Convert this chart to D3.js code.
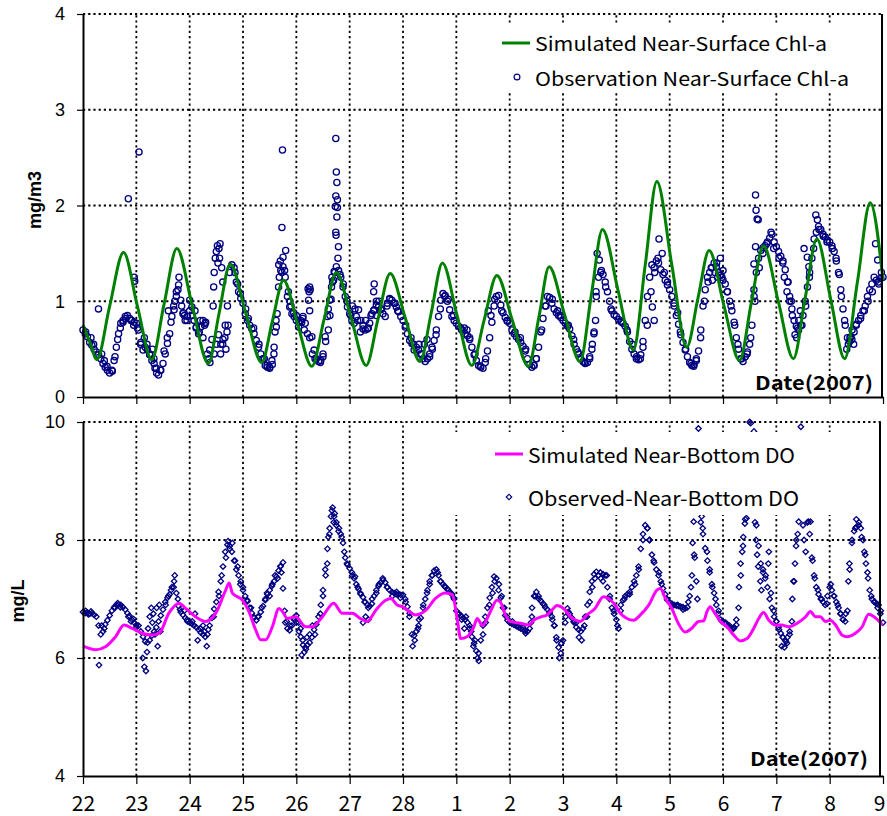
<!DOCTYPE html>
<html><head><meta charset="utf-8">
<script src="https://cdn.jsdelivr.net/npm/d3@7"></script>
<style>body{margin:0;background:#fff}</style></head><body>
<svg id="c" width="887" height="816"></svg>
<script>
// ---------- DATA ----------
const xLabels = ["22","23","24","25","26","27","28","1","2","3","4","5","6","7","8","9"];
const chlTicks = [0,1,2,3,4];
const doTicks = [4,6,8,10];

// Simulated near-surface Chl-a: [day, mg/m3]
const simChl = [
[0,0.75],[0.13,0.57],[0.26,0.39],[0.50,0.95],[0.76,1.51],[1.02,0.95],[1.29,0.39],[1.52,0.97],[1.76,1.55],
[2.05,0.95],[2.35,0.35],[2.55,0.87],[2.76,1.39],[3.05,0.88],[3.35,0.36],[3.55,0.79],[3.76,1.22],
[4.02,0.77],[4.29,0.32],[4.52,0.81],[4.75,1.30],[5.03,0.82],[5.31,0.33],[5.53,0.81],[5.76,1.29],
[6.04,0.83],[6.32,0.37],[6.53,0.88],[6.74,1.40],[7.01,0.86],[7.29,0.33],[7.52,0.80],[7.76,1.27],
[8.05,0.80],[8.35,0.32],[8.55,0.84],[8.74,1.36],[9.03,0.86],[9.32,0.37],[9.53,1.06],[9.74,1.75],
[10.03,1.12],[10.32,0.49],[10.54,1.37],[10.76,2.25],[11.04,1.38],[11.32,0.52],[11.53,1.03],[11.74,1.53],
[12.02,0.95],[12.31,0.38],[12.53,0.98],[12.76,1.58],[13.04,0.99],[13.32,0.40],[13.54,1.03],[13.76,1.65],
[14.02,1.02],[14.28,0.40],[14.52,1.20],[14.76,2.03],[15.0,1.22]
];

// Observed near-surface Chl-a, hourly values per day (22 Feb ... 8 Mar)
const obsChlHourly = [
[0.70,0.66,0.63,0.57,0.54,0.50,0.47,0.44,0.40,0.35,0.31,0.28,0.25,0.28,0.38,0.52,0.66,0.77,0.80,0.84,0.85,0.82,0.80,0.78],
[0.77,0.70,0.57,0.49,0.52,0.49,0.45,0.38,0.35,0.30,0.23,0.28,0.35,0.45,0.56,0.66,0.84,0.91,1.05,1.17,1.01,0.87,0.80,0.84],
[1.01,0.94,0.80,0.73,0.66,0.73,0.80,0.77,0.45,0.49,0.60,0.45,0.55,0.65,0.55,0.60,0.75,0.95,1.30,1.38,1.35,1.20,1.10,1.03],
[0.98,0.87,0.80,0.75,0.71,0.66,0.59,0.52,0.45,0.40,0.33,0.31,0.31,0.38,0.52,0.73,1.15,1.32,1.36,1.25,1.05,0.94,0.87,0.84],
[0.80,0.73,0.80,0.84,0.77,0.66,0.62,0.63,0.49,0.40,0.37,0.38,0.42,0.63,0.84,1.01,1.25,1.31,1.36,1.32,1.25,1.15,1.05,0.94],
[0.87,0.80,0.77,0.84,0.91,0.80,0.71,0.70,0.71,0.77,0.87,0.91,0.96,0.94,0.91,0.87,0.84,0.98,1.03,1.01,0.98,0.94,0.89,0.84],
[0.80,0.73,0.66,0.59,0.56,0.49,0.52,0.49,0.45,0.40,0.37,0.40,0.45,0.52,0.59,0.70,0.84,1.01,1.08,1.06,1.00,0.91,0.84,0.80],
[0.77,0.74,0.72,0.69,0.66,0.64,0.60,0.52,0.44,0.38,0.33,0.31,0.30,0.36,0.48,0.62,0.78,0.95,1.05,1.06,0.96,0.88,0.83,0.79],
[0.77,0.70,0.66,0.63,0.60,0.57,0.53,0.48,0.40,0.34,0.31,0.33,0.40,0.52,0.68,0.82,0.95,1.05,1.04,0.98,0.92,0.88,0.85,0.83],
[0.80,0.77,0.74,0.71,0.64,0.55,0.50,0.45,0.40,0.37,0.35,0.36,0.42,0.50,0.68,1.05,1.25,1.30,1.28,1.20,1.10,1.00,0.90,0.86],
[0.84,0.81,0.79,0.77,0.74,0.68,0.58,0.50,0.45,0.40,0.39,0.44,0.58,0.80,1.05,1.25,1.38,1.35,1.42,1.40,1.33,1.28,1.22,1.17],
[1.12,1.05,0.95,0.85,0.76,0.65,0.57,0.49,0.42,0.36,0.33,0.34,0.38,0.48,0.70,0.95,1.12,1.25,1.30,1.35,1.40,1.36,1.30,1.27],
[1.22,1.18,1.10,1.00,0.90,0.78,0.62,0.50,0.40,0.37,0.42,0.47,0.55,0.75,1.05,1.30,1.45,1.53,1.56,1.58,1.62,1.66,1.70,1.62],
[1.57,1.52,1.47,1.42,1.33,1.20,1.05,0.92,0.80,0.74,0.70,0.75,0.85,1.00,1.15,1.30,1.45,1.65,1.72,1.78,1.75,1.70,1.67,1.64],
[1.62,1.58,1.52,1.42,1.30,1.12,0.92,0.75,0.62,0.58,0.60,0.68,0.75,0.80,0.85,0.90,0.95,1.05,1.12,1.18,1.25,1.22,1.20,1.24]
];
const obsChlEnd = [15, 1.25];
// scattered / outlying Chl-a observations: [day, mg/m3]
const obsChlExtra = [
[0.29,0.92],[0.85,2.07],[1.05,2.56],[0.96,1.25],[0.97,1.21],
[1.15,0.62],[1.2,0.55],[1.25,0.44],[1.3,0.50],[1.33,0.40],
[1.6,0.90],[1.7,0.95],[1.75,1.10],[1.8,1.25],[1.85,0.95],[1.9,0.85],
[2.0,0.90],[2.1,0.90],[2.2,0.80],[2.25,0.62],[2.3,0.78],[2.36,0.40],[2.38,0.36],
[2.46,1.30],[2.48,1.45],[2.50,1.52],[2.52,1.58],[2.55,1.55],[2.57,1.60],[2.53,1.40],[2.56,1.45],[2.60,1.35],[2.45,1.15],[2.44,0.95],[2.62,1.20],
[2.58,0.45],[2.62,0.55],[2.66,0.62],[2.70,0.68],[2.72,0.75],[2.68,0.50],
[3.74,2.58],[3.73,1.77],[3.80,1.53],[3.75,1.46],[3.70,1.42],[3.67,1.38],[3.73,1.30],[3.62,0.80],[3.60,0.68],[3.64,0.87],[3.85,1.10],[3.90,0.95],
[4.22,1.13],[4.24,1.10],[4.25,1.15],[4.26,1.12],[4.23,1.01],[4.25,0.90],[4.10,0.78],[4.15,0.70],[4.0,0.85],
[4.74,2.70],[4.75,2.35],[4.76,2.24],[4.74,2.10],[4.77,2.06],[4.73,1.99],[4.77,1.98],[4.76,1.88],[4.74,1.72],[4.745,1.69],[4.79,1.57],[4.78,1.45],[4.70,1.22],[4.68,1.20],[4.65,1.02],[4.60,0.70],[4.63,0.85],
[5.25,0.75],[5.30,0.80],[5.45,0.90],[5.50,0.85],[5.05,0.95],[5.10,0.92],[5.46,1.18],[5.45,1.10],[5.50,1.00],[5.55,1.00],[5.60,0.92],
[6.30,0.55],[6.35,0.45],[6.40,0.55],[6.45,0.60],[7.15,0.72],[7.20,0.70],[7.60,0.90],
[9.64,1.50],[9.68,1.43],[9.61,0.80],[9.58,0.66],
[10.80,1.65],[10.86,1.50],[10.675,0.94],[10.71,0.80],
[11.80,1.22],[11.85,1.30],[11.95,1.45],[12.00,1.32],[11.90,1.25],
[12.61,2.11],[12.62,1.95],[12.64,1.86],[12.66,1.85],[12.61,1.57],[12.58,1.39],[12.58,1.12],
[13.15,1.25],[13.20,1.10],[13.25,1.00],[13.30,0.85],[13.35,0.65],[13.38,0.62],[13.42,0.80],[13.45,0.90],
[13.52,1.55],[13.58,1.46],[13.61,1.36],[13.74,1.90],[13.77,1.85],
[14.32,0.50],[14.35,0.55],[14.40,0.63],[14.45,0.55],[14.28,0.80],[14.86,1.60],[14.90,1.43]
];
// spread of the dense Chl-a observation band: [day, mg/m3]
const obsChlBand = [
[0.05,0.68],[0.15,0.62],[0.2,0.55],[0.35,0.45],[0.4,0.38],[0.45,0.32],[0.55,0.27],[0.6,0.42],[0.65,0.60],[0.7,0.72],[0.75,0.78],[0.8,0.82],[0.9,0.80],[0.95,0.75],
[1.02,0.72],[1.08,0.55],[1.35,0.30],[1.38,0.25],[1.45,0.28],[1.52,0.48],[1.58,0.62],[1.65,0.78],[1.72,1.00],[1.78,1.12],[1.88,0.88],[1.95,0.80],
[2.05,0.85],[2.12,0.72],[2.18,0.68],[2.28,0.75],[2.85,1.30],[2.9,1.18],[2.95,1.08],
[3.05,0.92],[3.1,0.82],[3.2,0.72],[3.3,0.55],[3.4,0.40],[3.45,0.33],[3.5,0.30],[3.55,0.34],[3.58,0.45],[3.68,1.25],[3.78,1.32],[3.88,1.00],[3.95,0.88],
[4.05,0.78],[4.12,0.82],[4.3,0.45],[4.35,0.40],[4.45,0.36],[4.5,0.45],[4.55,0.58],[4.6,0.92],[4.66,1.15],[4.72,1.30],[4.82,1.28],[4.88,1.18],[4.95,1.00],
[5.02,0.85],[5.15,0.80],[5.2,0.68],[5.35,0.72],[5.4,0.85],[5.7,0.95],[5.75,1.02],[5.85,0.98],[5.9,0.90],
[6.05,0.75],[6.15,0.62],[6.2,0.55],[6.5,0.42],[6.55,0.50],[6.62,0.65],[6.7,0.92],[6.78,1.05],[6.85,1.02],[6.95,0.85],
[7.1,0.70],[7.25,0.62],[7.35,0.45],[7.45,0.32],[7.55,0.40],[7.65,0.85],[7.72,1.02],[7.85,0.90],[7.95,0.80],
[8.1,0.68],[8.2,0.62],[8.3,0.50],[8.45,0.33],[8.5,0.40],[8.6,0.70],[8.68,0.95],[8.8,1.02],[8.9,0.90],[8.95,0.85],
[9.1,0.75],[9.2,0.60],[9.28,0.47],[9.4,0.36],[9.5,0.40],[9.55,0.55],[9.62,1.10],[9.72,1.32],[9.8,1.15],[9.9,0.92],
[10.1,0.78],[10.2,0.70],[10.3,0.55],[10.38,0.42],[10.45,0.40],[10.5,0.52],[10.58,0.75],[10.65,1.10],[10.72,1.30],[10.78,1.45],[10.9,1.30],[10.96,1.20],
[11.08,0.98],[11.15,0.88],[11.2,0.68],[11.3,0.50],[11.4,0.35],[11.45,0.32],[11.5,0.40],[11.58,0.62],[11.65,1.00],[11.72,1.20],[11.78,1.35],[11.88,1.40],[11.98,1.25],
[12.08,1.10],[12.15,0.95],[12.22,0.75],[12.28,0.55],[12.35,0.40],[12.45,0.45],[12.52,0.62],[12.6,1.00],[12.68,1.35],[12.75,1.50],[12.82,1.60],[12.9,1.72],[12.95,1.55],
[13.05,1.45],[13.12,1.40],[13.22,1.20],[13.28,1.00],[13.4,0.72],[13.48,0.75],[13.55,0.95],[13.62,1.25],[13.7,1.55],[13.8,1.75],[13.88,1.68],[13.95,1.62],
[14.05,1.55],[14.12,1.45],[14.18,1.28],[14.22,1.05],[14.38,0.62],[14.42,0.70],[14.5,0.76],[14.58,0.82],[14.65,0.90],[14.72,1.00],[14.8,1.10],[14.92,1.18],[14.97,1.30]
];

// Simulated near-bottom DO: [day, mg/L]
const simDO = [
[0,6.20],[0.24,6.14],[0.42,6.19],[0.61,6.36],[0.77,6.56],[0.925,6.50],[1.11,6.42],[1.30,6.39],[1.43,6.42],[1.61,6.76],
[1.80,6.93],[1.925,6.84],[2.11,6.70],[2.30,6.62],[2.49,6.76],[2.675,7.15],[2.74,7.27],[2.80,7.10],[2.99,6.98],[3.11,6.79],
[3.24,6.47],[3.33,6.31],[3.425,6.31],[3.55,6.53],[3.675,6.84],[3.74,6.79],[3.83,6.67],[3.99,6.70],[4.175,6.53],[4.30,6.53],
[4.49,6.70],[4.70,6.93],[4.86,6.76],[5.05,6.76],[5.20,6.67],[5.33,6.62],[5.49,6.81],[5.675,6.98],[5.77,7.01],[5.89,6.90],
[5.99,6.87],[6.11,6.79],[6.24,6.73],[6.43,6.81],[6.61,7.01],[6.80,7.10],[6.925,7.07],[7.02,6.64],[7.08,6.33],[7.20,6.36],
[7.33,6.53],[7.39,6.67],[7.49,6.55],[7.64,6.79],[7.76,6.98],[7.825,6.95],[7.92,6.73],[8.01,6.62],[8.20,6.59],[8.36,6.56],
[8.45,6.64],[8.60,6.70],[8.70,6.73],[8.79,6.81],[8.89,6.89],[9.01,6.84],[9.14,6.70],[9.325,6.62],[9.45,6.73],[9.60,6.84],
[9.76,7.04],[9.85,7.01],[9.95,6.93],[10.075,6.76],[10.20,6.67],[10.325,6.64],[10.45,6.73],[10.61,6.90],[10.76,7.15],[10.825,7.18],
[10.92,7.01],[11.04,6.84],[11.16,6.59],[11.29,6.44],[11.41,6.50],[11.54,6.62],[11.64,6.63],[11.70,6.79],[11.76,6.87],[11.825,6.79],
[11.95,6.62],[12.075,6.53],[12.20,6.39],[12.325,6.29],[12.45,6.33],[12.575,6.50],[12.67,6.67],[12.76,6.77],[12.86,6.64],[12.98,6.56],
[13.10,6.56],[13.23,6.53],[13.39,6.59],[13.55,6.70],[13.64,6.79],[13.73,6.70],[13.825,6.70],[13.92,6.62],[14.01,6.64],[14.11,6.56],
[14.23,6.39],[14.325,6.36],[14.48,6.42],[14.61,6.53],[14.73,6.74],[14.83,6.70],[14.99,6.56]
];

// Observed near-bottom DO, hourly values per day (null = no reading)
const obsDOHourly = [
[6.78,6.76,6.77,6.75,6.76,6.73,6.70,6.55,6.40,6.45,6.57,6.64,6.72,6.80,6.86,6.90,6.91,6.90,6.86,6.82,6.76,6.71,6.65,6.60],
[6.56,6.55,6.45,6.36,6.28,6.26,6.30,6.38,6.45,6.52,6.62,6.72,6.82,6.95,7.02,7.08,7.20,7.30,7.10,6.88,6.78,6.73,6.68,6.62],
[6.60,6.58,6.55,6.52,6.48,6.43,6.40,6.36,6.40,6.55,6.68,6.83,6.95,7.12,7.30,7.55,7.80,7.92,7.90,7.80,7.65,7.50,7.40,7.30],
[7.20,7.05,6.96,6.85,6.76,6.68,6.64,6.70,6.78,6.88,6.98,7.08,7.15,7.22,7.30,7.38,7.48,7.56,7.62,6.60,6.50,6.47,6.55,6.65],
[6.72,6.60,6.36,6.22,6.18,6.22,6.26,6.35,6.48,6.57,6.70,6.90,7.15,7.50,7.85,8.20,8.50,8.40,8.25,8.15,8.10,7.95,7.70,7.58],
[7.52,7.45,7.35,7.25,7.17,7.08,7.03,6.95,6.90,6.88,6.92,7.05,7.15,7.22,7.28,7.32,7.28,7.20,7.15,7.12,7.10,7.08,7.08,7.07],
[7.07,7.00,6.87,6.76,6.40,6.38,6.45,6.55,6.68,6.85,7.00,7.15,7.30,7.40,7.48,7.50,7.40,7.30,7.25,7.20,7.17,7.12,7.08,7.00],
[6.80,6.74,6.72,6.68,6.65,6.60,6.50,6.36,6.25,6.12,6.08,6.30,6.55,6.70,6.85,7.02,7.20,7.38,7.35,7.15,7.02,6.85,6.72,6.64],
[6.60,6.58,6.56,6.54,6.52,6.50,6.48,6.46,6.45,6.50,6.70,7.05,7.12,7.05,6.97,6.92,6.86,6.82,6.76,6.70,6.55,6.35,6.18,6.08],
[6.30,6.60,6.84,6.75,6.68,6.60,6.52,6.48,6.45,6.50,6.70,6.90,7.12,7.30,7.42,7.46,7.40,7.35,7.42,7.40,7.20,7.00,6.85,6.75],
[6.65,6.50,6.90,6.98,7.05,7.08,7.12,7.20,7.30,7.40,7.55,7.85,8.10,8.25,8.20,8.00,7.75,7.62,7.50,7.40,7.30,7.18,7.08,6.98],
[6.94,6.92,6.90,6.89,6.88,6.87,6.86,6.84,6.86,7.05,7.40,7.75,null,null,8.30,8.10,7.86,7.65,7.45,7.25,7.10,6.90,6.75,6.65],
[6.62,6.58,6.55,6.52,6.50,6.52,6.56,6.85,7.40,7.90,8.35,null,null,null,null,8.25,7.90,7.60,7.45,7.35,7.20,7.00,6.85,6.70],
[6.62,6.52,6.42,6.35,6.30,6.35,6.45,6.62,7.30,8.00,null,null,null,null,8.30,8.10,7.70,7.40,7.20,7.08,7.00,6.95,6.90,7.05],
[7.20,7.15,7.05,6.95,6.85,6.75,6.65,6.62,6.80,7.50,7.95,8.15,8.22,8.25,8.20,8.00,7.75,7.45,7.15,7.00,6.95,6.92,6.90,6.80]
];
const obsDOEnd = [15, 6.60];
// scattered / outlying DO observations: [day, mg/L]
const obsDOExtra = [
[0.30,5.88],
[1.12,6.00],[1.15,5.85],[1.18,5.78],[1.20,6.10],[1.22,6.50],[1.25,6.70],[1.28,6.85],[1.30,6.60],[1.32,6.75],[1.35,6.40],[1.40,6.20],[1.38,6.85],[1.43,6.90],[1.45,6.45],
[2.10,6.75],[2.15,6.30],[2.25,6.55],[2.32,6.20],[2.35,6.48],
[3.75,7.18],[3.78,6.80],
[4.10,6.05],[4.15,6.10],[4.20,6.35],[4.05,6.45],
[4.60,8.05],[4.65,8.40],[4.70,8.30],[4.75,8.30],[4.68,8.55],
[5.25,6.60],[5.30,6.70],[5.35,6.65],
[6.18,6.20],[6.22,6.30],[6.28,6.50],
[7.15,6.50],[7.25,6.55],[7.32,6.20],[7.40,6.00],[7.42,5.95],
[8.88,6.30],[8.93,6.00],[8.97,6.25],
[9.30,6.35],[9.35,6.30],[9.25,6.60],
[11.45,8.31],[11.43,7.95],[11.47,7.70],[11.54,9.89],[11.60,8.40],[11.62,8.20],[11.50,7.30],[11.52,7.00],
[12.30,7.20],[12.33,7.60],[12.36,7.80],[12.38,8.05],[12.41,8.28],[12.44,8.37],[12.50,10.0],[12.52,9.98],[12.58,9.84],[12.60,8.30],[12.62,8.00],[12.64,7.75],[12.66,7.55],[12.70,7.30],[12.72,7.15],[12.86,7.80],[12.85,7.60],
[13.30,7.00],[13.32,7.30],[13.35,7.60],[13.37,7.90],[13.40,8.10],[13.42,8.31],[13.46,9.92],[13.50,8.25],[13.52,8.00],[13.55,7.80],[13.60,8.31],[13.64,8.31],[13.10,6.20],[13.15,6.18],[13.20,6.25],[13.25,6.40],
[14.35,7.30],[14.37,7.60],[14.50,8.35],[14.55,8.30]
];
// spread of the dense DO observation band: [day, mg/L]
const obsDOBand = [
[0.05,6.80],[0.1,6.74],[0.15,6.79],[0.35,6.55],[0.4,6.50],[0.6,6.85],[0.65,6.93],[0.7,6.86],[0.85,6.70],[0.9,6.62],[0.95,6.66],[1.0,6.52],
[1.55,6.90],[1.6,7.05],[1.65,7.15],[1.7,7.20],[1.72,7.40],[1.78,7.00],[1.82,6.82],[1.9,6.80],[1.95,6.65],[2.05,6.62],[2.2,6.50],[2.28,6.45],
[2.45,6.70],[2.55,7.05],[2.6,7.40],[2.68,7.70],[2.72,7.98],[2.75,7.85],[2.8,7.95],[2.85,7.65],[2.9,7.55],[2.95,7.25],[3.0,7.15],[3.08,6.98],[3.15,6.85],[3.2,6.70],
[3.28,6.70],[3.35,6.85],[3.42,7.00],[3.45,7.10],[3.5,7.05],[3.55,7.25],[3.6,7.40],[3.65,7.35],[3.7,7.55],[3.72,7.45],
[3.82,6.62],[3.88,6.55],[3.95,6.68],[4.0,6.60],[4.08,6.50],[4.12,6.30],[4.18,6.15],[4.25,6.40],[4.3,6.55],[4.35,6.40],
[4.45,6.75],[4.5,7.05],[4.55,7.40],[4.58,7.60],[4.62,8.10],[4.72,8.45],[4.8,8.20],[4.85,8.05],[4.9,7.80],[4.95,7.60],
[5.05,7.40],[5.1,7.38],[5.15,7.20],[5.2,7.10],[5.28,6.95],[5.35,6.85],[5.42,7.00],[5.5,7.10],[5.55,7.25],[5.62,7.35],[5.7,7.20],[5.8,7.05],[5.88,7.12],[5.95,7.02],
[6.05,6.95],[6.12,6.70],[6.3,6.65],[6.38,6.90],[6.45,7.10],[6.5,7.25],[6.55,7.40],[6.65,7.45],[6.7,7.30],[6.78,7.22],[6.85,7.15],[6.9,7.10],[6.95,7.02],
[7.05,6.75],[7.1,6.65],[7.18,6.70],[7.28,6.45],[7.35,6.30],[7.5,6.40],[7.55,6.60],[7.62,6.90],[7.68,7.10],[7.72,7.30],[7.8,7.25],[7.85,7.05],[7.9,6.85],[7.95,6.70],
[8.05,6.62],[8.15,6.55],[8.25,6.52],[8.3,6.42],[8.4,6.60],[8.42,6.85],[8.48,7.05],[8.55,7.00],[8.65,6.90],[8.75,6.78],[8.8,6.65],[8.84,6.55],
[9.05,6.70],[9.1,6.78],[9.2,6.62],[9.4,6.55],[9.45,6.70],[9.5,6.95],[9.55,7.20],[9.6,7.35],[9.7,7.45],[9.75,7.30],[9.82,7.40],[9.88,7.05],[9.95,6.80],
[10.02,6.55],[10.08,6.80],[10.15,7.00],[10.25,7.08],[10.35,7.25],[10.42,7.50],[10.5,8.00],[10.58,8.20],[10.62,8.00],[10.7,7.65],[10.8,7.45],[10.85,7.25],[10.95,7.00],
[11.05,6.88],[11.15,6.90],[11.25,6.82],[11.35,6.95],[11.4,7.20],[11.7,7.80],[11.75,7.50],[11.8,7.20],[11.86,7.00],[11.92,6.80],[11.98,6.62],
[12.05,6.60],[12.12,6.55],[12.2,6.50],[12.25,6.65],[12.75,7.50],[12.8,7.40],[12.9,7.10],[12.95,6.80],[13.0,6.62],[13.05,6.48],[13.12,6.35],[13.18,6.28],
[13.68,7.65],[13.72,7.35],[13.78,7.15],[13.85,7.00],[13.95,6.92],[14.02,7.25],[14.08,7.05],[14.15,6.90],[14.2,6.75],[14.25,6.65],[14.3,6.75],
[14.42,8.00],[14.48,8.20],[14.6,8.05],[14.65,7.80],[14.68,7.60],[14.72,7.35],[14.78,7.05],[14.85,6.95],[14.9,6.85],[14.95,6.75]
];

// ---------- DRAWING ----------
const svg = d3.select("#c");
svg.append("rect").attr("width",887).attr("height",816).attr("fill","#fff");
const L = 83, R = 883;
const x = d3.scaleLinear().domain([0,15]).range([L,R]);
const yT = d3.scaleLinear().domain([0,4]).range([397,14]);
const yB = d3.scaleLinear().domain([4,10]).range([776,422]);
const NAVY = "#000080";
const gothic = "'Noto Sans CJK JP','Noto Sans',sans-serif";
const arial = "'Liberation Sans',Arial,sans-serif";

function hourly(rows, end){
  const out = [];
  rows.forEach((row,i)=>row.forEach((v,h)=>{ if(v!==null) out.push([i+h/24, v]); }));
  out.push(end);
  return out;
}
const obsChl = hourly(obsChlHourly, obsChlEnd).concat(obsChlExtra, obsChlBand);
const obsDO = hourly(obsDOHourly, obsDOEnd).concat(obsDOExtra, obsDOBand);

function grid(y, gridVals){
  const g = svg.append("g").attr("stroke","#000").attr("stroke-width",1.8).attr("stroke-dasharray","2.2,3");
  d3.range(1,15).forEach(i=>{
    g.append("line").attr("x1",x(i)).attr("x2",x(i)).attr("y1",y.range()[0]).attr("y2",y.range()[1]);
  });
  gridVals.forEach(v=>{
    g.append("line").attr("x1",L).attr("x2",R).attr("y1",y(v)).attr("y2",y(v));
  });
}
grid(yT,[1,2,3,4]);
grid(yB,[6,8,10]);

// ---- top panel data
svg.append("g").selectAll("circle").data(obsChl).join("circle")
  .attr("cx",d=>x(d[0])).attr("cy",d=>yT(d[1])).attr("r",3.1)
  .attr("fill","none").attr("stroke",NAVY).attr("stroke-width",1.3);
svg.append("path").datum(simChl)
  .attr("d",d3.line().x(d=>x(d[0])).y(d=>yT(d[1])).curve(d3.curveMonotoneX))
  .attr("fill","none").attr("stroke","#008000").attr("stroke-width",3).attr("stroke-linejoin","round");

// ---- bottom panel data
const diamond = d3.symbol().type(d3.symbolSquare).size(15)();
svg.append("g").selectAll("path").data(obsDO).join("path")
  .attr("d",diamond)
  .attr("transform",d=>`translate(${x(d[0])},${yB(d[1])}) rotate(45)`)
  .attr("fill","none").attr("stroke",NAVY).attr("stroke-width",1.3);
svg.append("path").datum(simDO)
  .attr("d",d3.line().x(d=>x(d[0])).y(d=>yB(d[1])).curve(d3.curveMonotoneX))
  .attr("fill","none").attr("stroke","#ff00ff").attr("stroke-width",3);

// ---- legend boxes (opaque)
svg.append("rect").attr("x",470).attr("y",25).attr("width",410).attr("height",67).attr("fill","#fff");
svg.append("rect").attr("x",445).attr("y",432).attr("width",433).attr("height",83).attr("fill","#fff");

// ---- axes
function styleAxis(g, fontFam, size){
  g.select(".domain").attr("stroke","#000").attr("stroke-width",2);
  g.selectAll(".tick line").attr("stroke","#000").attr("stroke-width",1.2);
  g.selectAll(".tick text").attr("font-family",fontFam).attr("font-size",size).attr("fill","#000");
}
const axT = svg.append("g").attr("transform",`translate(${L},0)`)
  .call(d3.axisLeft(yT).tickValues(chlTicks).tickFormat(d3.format("d")).tickSize(6).tickSizeOuter(0).tickPadding(12));
styleAxis(axT, arial, 18);
const axB = svg.append("g").attr("transform",`translate(${L},0)`)
  .call(d3.axisLeft(yB).tickValues(doTicks).tickFormat(d3.format("d")).tickSize(6).tickSizeOuter(0).tickPadding(12));
styleAxis(axB, arial, 18);
const axXT = svg.append("g").attr("transform","translate(0,397)")
  .call(d3.axisBottom(x).tickValues(d3.range(16)).tickFormat("").tickSize(7).tickSizeOuter(0));
styleAxis(axXT, gothic, 20);
const axXB = svg.append("g").attr("transform","translate(0,776)")
  .call(d3.axisBottom(x).tickValues(d3.range(16)).tickFormat(i=>xLabels[i]).tickSize(8).tickSizeOuter(0).tickPadding(12));
styleAxis(axXB, gothic, 21);
axXB.selectAll(".tick text").filter((d,i)=>i===15).attr("dx",-4);

// right borders
svg.append("line").attr("x1",882).attr("x2",882).attr("y1",yT(4)).attr("y2",yT(0)).attr("stroke","#000").attr("stroke-width",2);
svg.append("line").attr("x1",880).attr("x2",880).attr("y1",yB(10)).attr("y2",yB(4)).attr("stroke","#000").attr("stroke-width",2);

// axis titles
svg.append("text").attr("transform","translate(36,200) rotate(-90)")
  .attr("text-anchor","middle").attr("dominant-baseline","middle")
  .attr("font-family",arial).attr("font-weight","bold").attr("font-size",18).text("mg/m3");
svg.append("text").attr("transform","translate(19,601) rotate(-90)")
  .attr("text-anchor","middle").attr("dominant-baseline","middle")
  .attr("font-family",arial).attr("font-weight","bold").attr("font-size",18).text("mg/L");

function label(txt, x0, yc, len, size, bold){
  svg.append("text").attr("x",x0).attr("y",yc).attr("dominant-baseline","central")
    .attr("font-family",gothic).attr("font-size",size).attr("font-weight",bold?"bold":"normal")
    .attr("textLength",len).attr("lengthAdjust","spacingAndGlyphs").attr("fill","#000").text(txt);
}
// top legend
svg.append("line").attr("x1",502).attr("x2",530).attr("y1",43).attr("y2",43).attr("stroke","#008000").attr("stroke-width",3);
label("Simulated Near-Surface Chl-a",535,42,292,19,false);
svg.append("circle").attr("cx",517).attr("cy",77).attr("r",2.9).attr("fill","none").attr("stroke",NAVY).attr("stroke-width",1.2);
label("Observation Near-Surface Chl-a",535,77,314,19,false);
// bottom legend
svg.append("line").attr("x1",495).attr("x2",523).attr("y1",454).attr("y2",454).attr("stroke","#ff00ff").attr("stroke-width",3);
label("Simulated Near-Bottom DO",528,454,267,20,false);
svg.append("path").attr("d",diamond).attr("transform","translate(509,497) rotate(45)")
  .attr("fill","none").attr("stroke",NAVY).attr("stroke-width",1.2);
label("Observed-Near-Bottom DO",528,497,271,20,false);

// Date labels
label("Date(2007)",755,381,118,19,true);
label("Date(2007)",750,757,118,19,true);
</script>
</body></html>
